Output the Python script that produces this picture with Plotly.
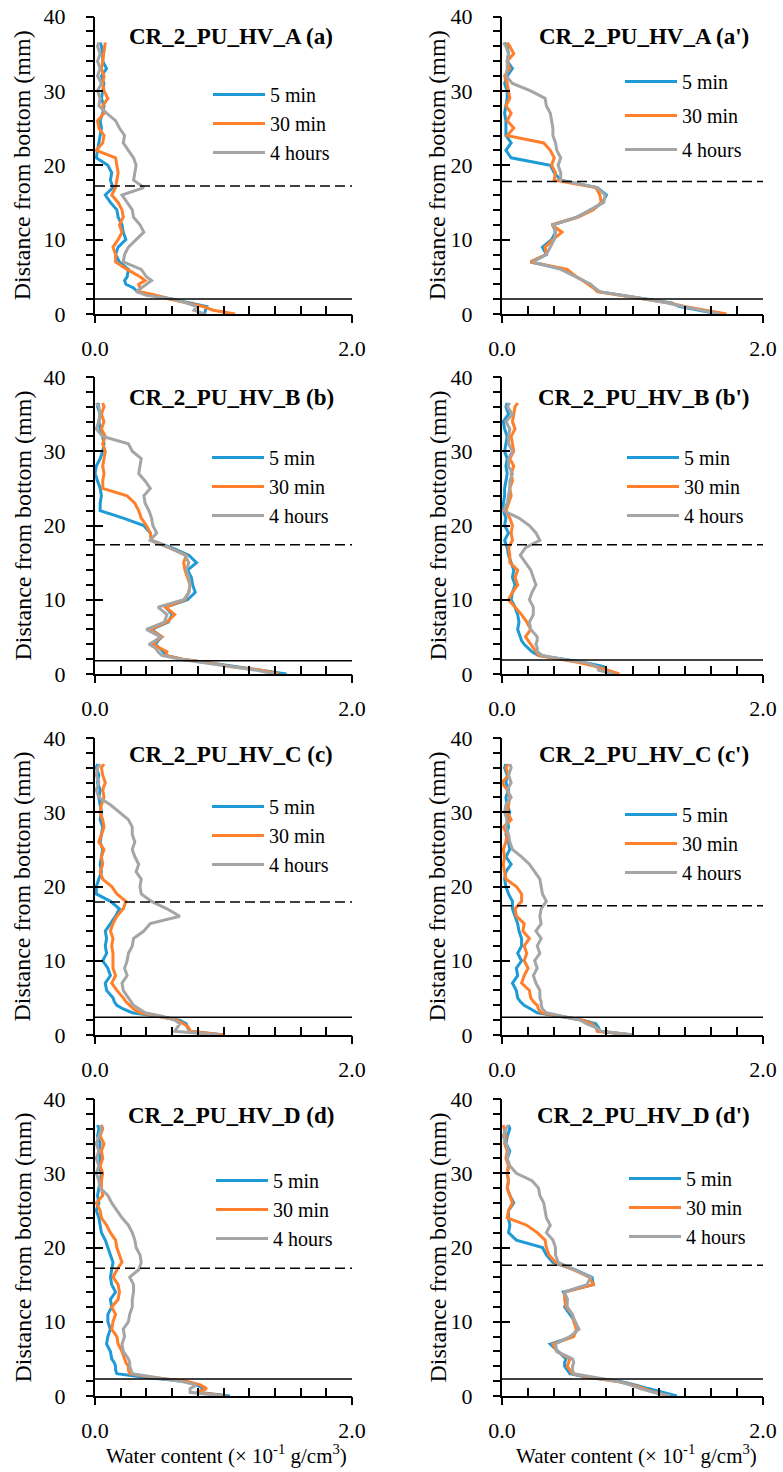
import plotly.graph_objects as go

# ---------------- data ----------------
# distance from bottom (mm), shared by every profile
Y = [0, 0.5, 1, 1.5, 2, 2.5, 3, 3.5, 4, 4.5, 5, 6, 7, 8, 9, 10, 11, 12, 13, 14, 15,
     16, 17, 18, 19, 20, 21, 22, 23, 24, 25, 26, 27, 28, 29, 30, 31, 32, 33, 34, 35, 36, 36.5]

SERIES = ["5 min", "30 min", "4 hours"]
COLORS = ["#1E9BD7", "#FF7F2A", "#A5A5A5"]

TITLES = ["CR_2_PU_HV_A (a)", "CR_2_PU_HV_A (a')", "CR_2_PU_HV_B (b)", "CR_2_PU_HV_B (b')",
          "CR_2_PU_HV_C (c)", "CR_2_PU_HV_C (c')", "CR_2_PU_HV_D (d)", "CR_2_PU_HV_D (d')"]

# water content (x 10^-1 g/cm3)
a_5 = [0.85,0.86,0.87,0.74,0.60,0.48,0.33,0.30,0.24,0.23,0.25,0.26,0.19,0.16,0.18,0.24,0.22,0.21,0.18,0.17,0.12,0.08,0.14,0.12,0.13,0.10,0.01,0.02,0.03,0.04,0.05,0.04,0.06,0.07,0.05,0.06,0.07,0.05,0.09,0.06,0.06,0.05,0.04]
a_30 = [1.09,0.92,0.84,0.71,0.58,0.48,0.35,0.35,0.34,0.39,0.35,0.25,0.16,0.16,0.14,0.18,0.21,0.19,0.22,0.21,0.18,0.13,0.16,0.17,0.18,0.17,0.16,0.01,0.06,0.07,0.03,0.02,0.07,0.06,0.10,0.07,0.06,0.07,0.05,0.06,0.07,0.08,0.08]
a_4h = [0.85,0.77,0.79,0.71,0.61,0.40,0.32,0.36,0.40,0.44,0.40,0.36,0.22,0.23,0.26,0.32,0.38,0.35,0.30,0.29,0.25,0.21,0.38,0.30,0.31,0.32,0.30,0.26,0.22,0.23,0.19,0.16,0.09,0.03,0.04,0.02,0.05,0.02,0.04,0.02,0.04,0.02,0.03]

ap_5 = [1.66,1.50,1.36,1.30,1.12,0.93,0.74,0.71,0.67,0.62,0.57,0.47,0.22,0.34,0.31,0.38,0.41,0.39,0.57,0.69,0.77,0.80,0.73,0.45,0.40,0.37,0.07,0.03,0.07,0.03,0.03,0.03,0.02,0.03,0.04,0.04,0.02,0.04,0.08,0.04,0.05,0.04,0.02]
ap_30 = [1.72,1.55,1.40,1.27,1.10,0.92,0.73,0.70,0.66,0.62,0.57,0.50,0.22,0.34,0.33,0.39,0.46,0.38,0.58,0.70,0.76,0.75,0.72,0.40,0.41,0.38,0.40,0.37,0.32,0.04,0.09,0.04,0.07,0.03,0.06,0.05,0.04,0.02,0.06,0.04,0.09,0.06,0.04]
ap_4h = [1.67,1.52,1.39,1.26,1.11,0.93,0.75,0.71,0.68,0.62,0.57,0.45,0.24,0.34,0.37,0.40,0.41,0.39,0.57,0.68,0.78,0.79,0.73,0.45,0.45,0.43,0.45,0.42,0.41,0.39,0.39,0.38,0.37,0.34,0.33,0.22,0.08,0.03,0.04,0.04,0.05,0.03,0.01]

b_5 = [1.49,1.30,1.08,0.90,0.68,0.55,0.53,0.50,0.47,0.49,0.52,0.44,0.57,0.60,0.55,0.72,0.78,0.76,0.75,0.72,0.79,0.73,0.60,0.44,0.43,0.38,0.22,0.04,0.04,0.05,0.04,0.02,0.00,0.01,0.04,0.06,0.07,0.06,0.04,0.03,0.04,0.02,0.03]
b_30 = [1.43,1.30,1.05,0.90,0.68,0.55,0.56,0.50,0.45,0.48,0.52,0.43,0.56,0.62,0.55,0.70,0.73,0.74,0.72,0.70,0.69,0.71,0.58,0.44,0.43,0.40,0.36,0.34,0.31,0.25,0.06,0.06,0.07,0.06,0.07,0.08,0.06,0.08,0.05,0.07,0.05,0.07,0.06]
b_4h = [1.40,1.26,1.05,0.84,0.66,0.52,0.49,0.47,0.42,0.47,0.51,0.40,0.54,0.56,0.49,0.69,0.73,0.74,0.73,0.71,0.73,0.70,0.58,0.43,0.48,0.45,0.44,0.42,0.39,0.38,0.43,0.39,0.34,0.35,0.36,0.29,0.26,0.06,0.01,0.03,0.04,0.03,0.01]

bp_5 = [0.87,0.80,0.78,0.65,0.47,0.28,0.23,0.20,0.17,0.15,0.14,0.12,0.13,0.12,0.10,0.07,0.08,0.10,0.08,0.09,0.07,0.05,0.04,0.02,0.05,0.02,0.03,0.01,0.01,0.02,0.02,0.03,0.04,0.03,0.04,0.02,0.03,0.04,0.02,0.01,0.05,0.03,0.04]
bp_30 = [0.90,0.81,0.72,0.60,0.45,0.28,0.26,0.24,0.22,0.20,0.18,0.22,0.19,0.15,0.10,0.05,0.08,0.12,0.10,0.12,0.06,0.06,0.05,0.08,0.07,0.08,0.06,0.03,0.05,0.07,0.06,0.08,0.07,0.09,0.06,0.09,0.08,0.07,0.10,0.08,0.09,0.10,0.12]
bp_4h = [0.86,0.74,0.73,0.65,0.47,0.31,0.27,0.27,0.26,0.27,0.27,0.22,0.21,0.24,0.24,0.21,0.23,0.26,0.24,0.22,0.18,0.14,0.18,0.29,0.26,0.21,0.13,0.01,0.04,0.05,0.06,0.06,0.08,0.05,0.05,0.08,0.05,0.05,0.06,0.03,0.08,0.04,0.06]

c_5 = [1.01,0.74,0.72,0.71,0.66,0.50,0.29,0.22,0.17,0.15,0.14,0.09,0.08,0.12,0.10,0.06,0.09,0.08,0.09,0.08,0.12,0.16,0.19,0.12,0.01,0.01,0.03,0.05,0.04,0.05,0.06,0.04,0.05,0.06,0.04,0.05,0.04,0.03,0.04,0.02,0.03,0.01,0.02]
c_30 = [1.00,0.74,0.73,0.69,0.64,0.48,0.35,0.30,0.27,0.24,0.22,0.17,0.13,0.16,0.14,0.14,0.14,0.13,0.14,0.12,0.14,0.17,0.22,0.24,0.17,0.13,0.06,0.04,0.06,0.05,0.07,0.03,0.05,0.07,0.06,0.04,0.05,0.07,0.06,0.08,0.06,0.05,0.07]
c_4h = [0.97,0.62,0.64,0.66,0.62,0.53,0.39,0.34,0.30,0.28,0.26,0.22,0.21,0.25,0.23,0.25,0.26,0.29,0.30,0.38,0.43,0.66,0.56,0.44,0.36,0.35,0.36,0.32,0.34,0.31,0.29,0.31,0.29,0.29,0.26,0.19,0.12,0.03,0.01,0.03,0.01,0.02,0.04]

cp_5 = [1.01,0.75,0.74,0.72,0.62,0.46,0.27,0.22,0.17,0.14,0.12,0.11,0.08,0.12,0.11,0.15,0.12,0.15,0.15,0.13,0.12,0.10,0.08,0.08,0.05,0.03,0.02,0.03,0.07,0.03,0.06,0.05,0.03,0.05,0.04,0.06,0.04,0.03,0.05,0.03,0.04,0.02,0.03]
cp_30 = [1.01,0.73,0.72,0.69,0.62,0.46,0.30,0.28,0.27,0.24,0.22,0.21,0.15,0.17,0.20,0.17,0.19,0.17,0.21,0.16,0.17,0.11,0.10,0.15,0.15,0.11,0.03,0.02,0.01,0.02,0.01,0.03,0.04,0.01,0.07,0.04,0.05,0.06,0.04,0.00,0.05,0.03,0.05]
cp_4h = [1.00,0.76,0.72,0.65,0.60,0.48,0.34,0.31,0.30,0.30,0.29,0.29,0.26,0.24,0.27,0.25,0.29,0.27,0.30,0.26,0.30,0.29,0.30,0.34,0.31,0.30,0.29,0.25,0.21,0.15,0.08,0.06,0.05,0.03,0.04,0.02,0.03,0.07,0.04,0.07,0.05,0.07,0.06]

d_5 = [1.05,0.80,0.85,0.79,0.69,0.40,0.17,0.16,0.16,0.15,0.13,0.12,0.09,0.10,0.12,0.10,0.10,0.13,0.12,0.16,0.13,0.12,0.13,0.14,0.12,0.10,0.08,0.05,0.04,0.03,0.01,0.03,0.02,0.03,0.04,0.05,0.03,0.04,0.03,0.04,0.02,0.03,0.02]
d_30 = [1.02,0.79,0.87,0.82,0.71,0.45,0.27,0.26,0.26,0.24,0.23,0.21,0.18,0.17,0.13,0.14,0.16,0.13,0.18,0.19,0.18,0.14,0.17,0.21,0.19,0.17,0.16,0.12,0.09,0.05,0.04,0.01,0.06,0.05,0.05,0.06,0.04,0.06,0.05,0.07,0.04,0.06,0.05]
d_4h = [1.00,0.74,0.74,0.79,0.66,0.48,0.29,0.28,0.27,0.27,0.26,0.22,0.21,0.23,0.22,0.26,0.27,0.29,0.29,0.30,0.30,0.27,0.34,0.36,0.35,0.32,0.31,0.29,0.26,0.21,0.17,0.13,0.10,0.04,0.03,0.01,0.03,0.01,0.03,0.01,0.03,0.05,0.04]

dp_5 = [1.34,1.22,1.12,1.02,0.90,0.66,0.52,0.50,0.48,0.48,0.49,0.43,0.37,0.54,0.58,0.56,0.52,0.48,0.50,0.47,0.70,0.69,0.56,0.39,0.34,0.31,0.11,0.05,0.06,0.05,0.05,0.09,0.06,0.04,0.05,0.04,0.05,0.04,0.06,0.03,0.04,0.06,0.05]
dp_30 = [1.28,1.17,1.09,1.00,0.87,0.68,0.54,0.52,0.50,0.51,0.52,0.42,0.39,0.55,0.57,0.55,0.54,0.49,0.48,0.48,0.70,0.67,0.55,0.41,0.36,0.34,0.33,0.27,0.19,0.04,0.05,0.08,0.06,0.04,0.05,0.04,0.05,0.03,0.04,0.02,0.03,0.02,0.01]
dp_4h = [1.29,1.16,1.06,0.98,0.88,0.70,0.55,0.54,0.54,0.55,0.54,0.42,0.41,0.52,0.59,0.56,0.54,0.50,0.50,0.48,0.65,0.68,0.55,0.43,0.41,0.41,0.39,0.34,0.37,0.34,0.33,0.32,0.29,0.28,0.23,0.11,0.06,0.04,0.05,0.03,0.01,0.03,0.05]

PANELS = [[a_5, a_30, a_4h], [ap_5, ap_30, ap_4h],
          [b_5, b_30, b_4h], [bp_5, bp_30, bp_4h],
          [c_5, c_30, c_4h], [cp_5, cp_30, cp_4h],
          [d_5, d_30, d_4h], [dp_5, dp_30, dp_4h]]

# boundary levels (mm): solid = bottom layer, dashed = interface
SOLID_Y = [2.0, 2.0, 1.8, 1.9, 2.4, 2.4, 2.3, 2.3]
DASHED_Y = [17.2, 17.8, 17.4, 17.4, 17.9, 17.4, 17.2, 17.6]

X_RANGE = [0, 2.0]
Y_RANGE = [0, 40]

# ---------------- layout helpers ----------------
W, H = 783, 1472
FONT = "Liberation Serif"

def px(xs):                  # window x pixel -> paper fraction
    return xs / W

def py(ys):                  # window y pixel -> paper fraction
    return (H - ys) / H

COL_PX = [(95, 352), (502, 763)]
ROW_PX = [(16.5, 314), (377, 674), (738, 1035), (1099, 1396)]
LEG_PX = [(208, 75), (620, 62), (207, 438), (622, 438), (207, 787), (620, 795), (211, 1161), (624, 1159)]
TITLE_Y = [0.932, 0.932, 0.943, 0.943]

fig = go.Figure()
layout = dict(width=W, height=H, autosize=False,
              margin=dict(l=0, r=0, t=0, b=0, pad=0, autoexpand=False),
              paper_bgcolor="white", plot_bgcolor="white", showlegend=True,
              font=dict(family=FONT, color="black"))
annotations = []
shapes = []

def ax(n):
    return "" if n == 1 else str(n)

for i in range(8):
    n = i + 1
    r, c = divmod(i, 2)
    x0, x1 = COL_PX[c]
    yt, yb = ROW_PX[r]
    xd = [px(x0), px(x1)]
    yd = [py(yb), py(yt)]
    legname = "legend" + ax(n)

    for k in range(3):
        fig.add_trace(go.Scatter(
            x=PANELS[i][k], y=Y, mode="lines", name=SERIES[k],
            line=dict(color=COLORS[k], width=3),
            xaxis="x" + ax(n), yaxis="y" + ax(n), legend=legname,
            legendgroup=(f"g{n}{k}" if n == 2 else None),
            hoverinfo="skip"))
    # helper traces for the overlay axes (cross ticks)
    fig.add_trace(go.Scatter(x=[], y=[], xaxis="x" + str(n + 8), yaxis="y" + ax(n),
                             showlegend=False, hoverinfo="skip"))
    fig.add_trace(go.Scatter(x=[], y=[], xaxis="x" + ax(n), yaxis="y" + str(n + 8),
                             showlegend=False, hoverinfo="skip"))

    layout["xaxis" + ax(n)] = dict(
        domain=xd, anchor="y" + ax(n), range=X_RANGE, showline=True, linecolor="black",
        linewidth=2, ticks="inside", ticklen=8, tickwidth=2, tickcolor="black",
        tick0=0, dtick=2, tickformat=".1f", showgrid=False, zeroline=False,
        tickfont=dict(family=FONT, size=22, color="black"), ticklabelstandoff=14,
        ticklabeloverflow="allow",
        minor=dict(ticks="inside", ticklen=8, tickwidth=1.5, tickcolor="black",
                   tick0=0, dtick=0.2, showgrid=False),
        automargin=False, fixedrange=True)
    layout["yaxis" + ax(n)] = dict(
        domain=yd, anchor="x" + ax(n), range=Y_RANGE, showline=True, linecolor="black",
        linewidth=2, ticks="inside", ticklen=8, tickwidth=2, tickcolor="black",
        tick0=0, dtick=10, showgrid=False, zeroline=False,
        tickfont=dict(family=FONT, size=22, color="black"), ticklabelstandoff=23,
        ticklabeloverflow="allow",
        minor=dict(ticks="outside", ticklen=7, tickwidth=1.5, tickcolor="black",
                   tick0=0, dtick=2, showgrid=False),
        automargin=False, fixedrange=True)
    layout["xaxis" + str(n + 8)] = dict(
        overlaying="x" + ax(n), anchor="y" + ax(n), range=X_RANGE, showline=False,
        ticks="outside", ticklen=8, tickwidth=2, tickcolor="black", tick0=0, dtick=2,
        showticklabels=False, showgrid=False, zeroline=False, automargin=False,
        fixedrange=True)
    layout["yaxis" + str(n + 8)] = dict(
        overlaying="y" + ax(n), anchor="x" + ax(n), side="left", range=Y_RANGE,
        showline=False, ticks="outside", ticklen=8, tickwidth=2, tickcolor="black",
        tick0=0, dtick=10, showticklabels=False, showgrid=False, zeroline=False,
        automargin=False, fixedrange=True)

    lx, ly = LEG_PX[i]
    layout[legname] = dict(
        x=px(lx), y=py(ly), xanchor="left", yanchor="top",
        bgcolor="rgba(0,0,0,0)", font=dict(family=FONT, size=20, color="black"),
        itemwidth=52, traceorder=("grouped" if n == 2 else "normal"),
        tracegroupgap=(5 if n == 2 else 0),
        itemclick=False, itemdoubleclick=False)

    # boundary lines
    shapes.append(dict(type="line", xref="x" + ax(n) + " domain", x0=0, x1=1,
                       yref="y" + ax(n), y0=SOLID_Y[i], y1=SOLID_Y[i],
                       line=dict(color="black", width=1.5)))
    shapes.append(dict(type="line", xref="x" + ax(n) + " domain", x0=0, x1=1,
                       yref="y" + ax(n), y0=DASHED_Y[i], y1=DASHED_Y[i],
                       line=dict(color="black", width=1.5, dash="10px,5px")))

    # panel title
    annotations.append(dict(text="<b>" + TITLES[i] + "</b>", xref="x" + ax(n) + " domain",
                            yref="y" + ax(n) + " domain", x=(0.53 if c == 0 else 0.544),
                            y=TITLE_Y[r], xanchor="center", yanchor="middle", showarrow=False,
                            font=dict(family=FONT, size=23, color="black")))
    # y-axis title
    annotations.append(dict(text="Distance from bottom (mm)", xref="paper",
                            yref="y" + ax(n) + " domain", x=px(22 if c == 0 else 437), y=0.5,
                            xanchor="center", yanchor="middle", textangle=-90, showarrow=False,
                            font=dict(family=FONT, size=24, color="black")))

# x-axis titles (bottom row)
for n, xc in [(7, 0.51), (8, 0.517)]:
    annotations.append(dict(text="Water content (× 10<sup>-1</sup> g/cm<sup>3</sup>)",
                            xref="x" + ax(n) + " domain", yref="paper", x=xc, y=py(1454),
                            xanchor="center", yanchor="middle", showarrow=False,
                            font=dict(family=FONT, size=21, color="black")))

layout["annotations"] = annotations
layout["shapes"] = shapes
fig.update_layout(**layout)
fig.write_html("out.html", config={"displayModeBar": False},
               post_script="document.body.style.margin='0px';"
                           "document.body.style.overflow='hidden';")
